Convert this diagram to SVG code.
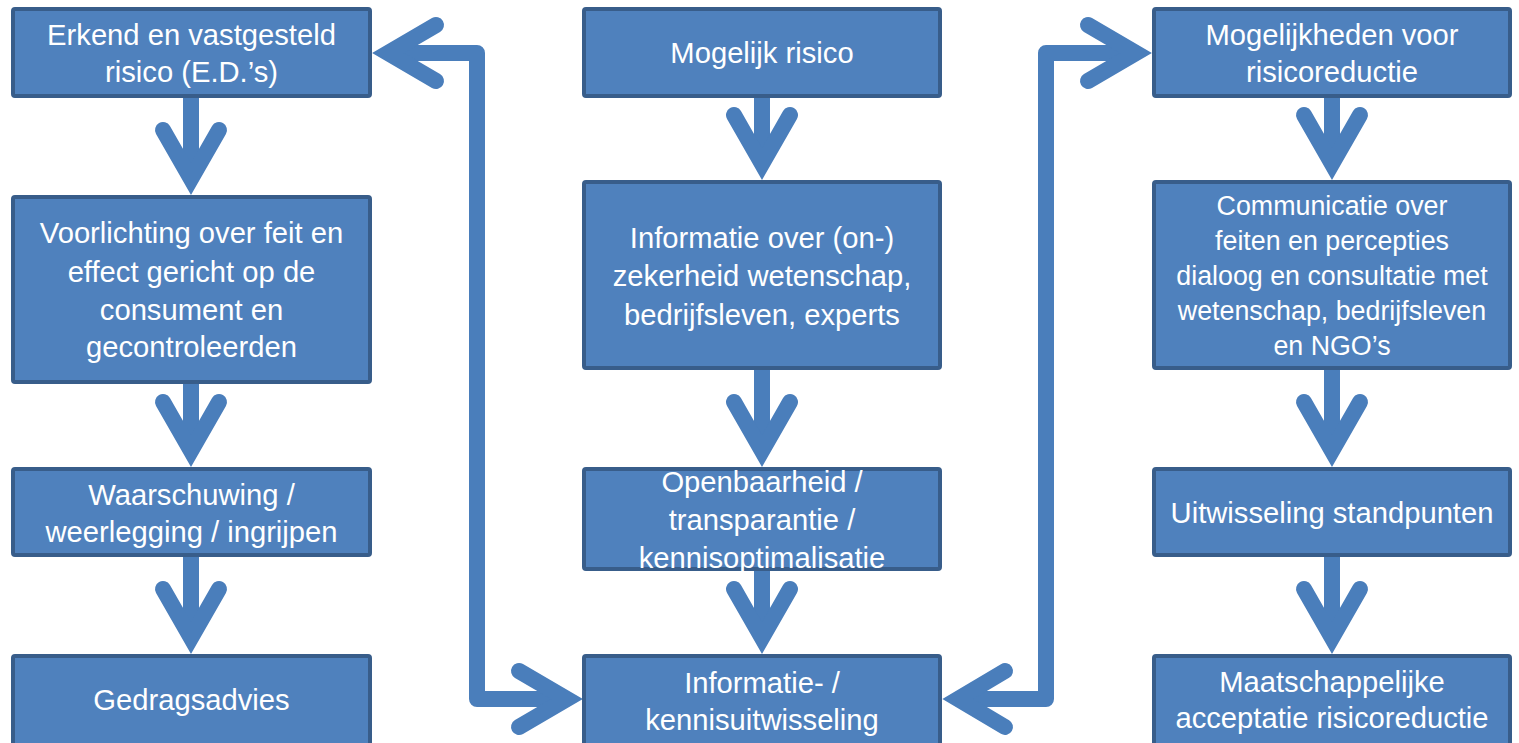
<svg xmlns="http://www.w3.org/2000/svg" width="1519" height="743" viewBox="0 0 1519 743">
<style>
.box{fill:#4F81BD;stroke:#385D8A;stroke-width:4}
.t{fill:#FFFFFF;font-family:"Liberation Sans",Arial,sans-serif;font-size:29.2px;text-anchor:middle}
.s{font-size:26.8px}
.ln{fill:none;stroke:#4A7EBB;stroke-width:16;stroke-linejoin:round;stroke-linecap:butt}
.hd{fill:none;stroke:#4A7EBB;stroke-width:16;stroke-linejoin:miter;stroke-miterlimit:6;stroke-linecap:round}
</style>
<rect width="1519" height="743" fill="#FFFFFF"/>
<g id="connectors">
<path class="ln" d="M191 98V180"/><polyline class="hd" points="163,130 191,179 219,130"/>
<path class="ln" d="M191 384V452"/><polyline class="hd" points="163,402 191,451 219,402"/>
<path class="ln" d="M191 557V639"/><polyline class="hd" points="163,589 191,638 219,589"/>
<path class="ln" d="M762 98V165"/><polyline class="hd" points="734,115 762,164 790,115"/>
<path class="ln" d="M762 370V452"/><polyline class="hd" points="734,402 762,451 790,402"/>
<path class="ln" d="M762 571V639"/><polyline class="hd" points="734,589 762,638 790,589"/>
<path class="ln" d="M1332 98V165"/><polyline class="hd" points="1304,115 1332,164 1360,115"/>
<path class="ln" d="M1332 370V452"/><polyline class="hd" points="1304,402 1332,451 1360,402"/>
<path class="ln" d="M1332 557V639"/><polyline class="hd" points="1304,589 1332,638 1360,589"/>
<path class="ln" d="M567 699H477V53H388"/>
<polyline class="hd" points="519,671 567,699 519,727"/>
<polyline class="hd" points="436,25 388,53 436,81"/>
<path class="ln" d="M958 699H1046V53H1136"/>
<polyline class="hd" points="1005,671 958,699 1005,727"/>
<polyline class="hd" points="1088,25 1136,53 1088,81"/>
</g>
<g id="n-erkend"><rect class="box" x="13" y="9" width="357" height="87" rx="2"/>
<text class="t" x="191.5" y="45">Erkend en vastgesteld</text><text class="t" x="191.5" y="82">risico (E.D.’s)</text></g>
<g id="n-voorlichting"><rect class="box" x="13" y="197" width="357" height="185" rx="2"/>
<text class="t" x="191.5" y="243">Voorlichting over feit en</text><text class="t" x="191.5" y="282">effect gericht op de</text><text class="t" x="191.5" y="320">consument en</text><text class="t" x="191.5" y="357">gecontroleerden</text></g>
<g id="n-waarschuwing"><rect class="box" x="13" y="469" width="357" height="86" rx="2"/>
<text class="t" x="191.5" y="505">Waarschuwing /</text><text class="t" x="191.5" y="542">weerlegging / ingrijpen</text></g>
<g id="n-gedragsadvies"><rect class="box" x="13" y="656" width="357" height="100" rx="2"/>
<text class="t" x="191.5" y="710">Gedragsadvies</text></g>
<g id="n-mogelijk"><rect class="box" x="584" y="9" width="356" height="87" rx="2"/>
<text class="t" x="762" y="63">Mogelijk risico</text></g>
<g id="n-informatie-over"><rect class="box" x="584" y="182" width="356" height="186" rx="2"/>
<text class="t" x="762" y="248">Informatie over (on-)</text><text class="t" x="762" y="286">zekerheid wetenschap,</text><text class="t" x="762" y="325">bedrijfsleven, experts</text></g>
<g id="n-openbaarheid"><rect class="box" x="584" y="469" width="356" height="100" rx="2"/>
<text class="t" x="762" y="492">Openbaarheid /</text><text class="t" x="762" y="530">transparantie /</text><text class="t" x="762" y="568">kennisoptimalisatie</text></g>
<g id="n-uitwisseling-info"><rect class="box" x="584" y="656" width="356" height="100" rx="2"/>
<text class="t" x="762" y="693">Informatie- /</text><text class="t" x="762" y="730">kennisuitwisseling</text></g>
<g id="n-mogelijkheden"><rect class="box" x="1154" y="9" width="356" height="87" rx="2"/>
<text class="t" x="1332" y="45">Mogelijkheden voor</text><text class="t" x="1332" y="82">risicoreductie</text></g>
<g id="n-communicatie"><rect class="box" x="1154" y="182" width="356" height="186" rx="2"/>
<text class="t s" x="1332" y="215">Communicatie over</text><text class="t s" x="1332" y="250">feiten en percepties</text><text class="t s" x="1332" y="285">dialoog en consultatie met</text><text class="t s" x="1332" y="320">wetenschap, bedrijfsleven</text><text class="t s" x="1332" y="355">en NGO’s</text></g>
<g id="n-standpunten"><rect class="box" x="1154" y="469" width="356" height="86" rx="2"/>
<text class="t" x="1332" y="523">Uitwisseling standpunten</text></g>
<g id="n-acceptatie"><rect class="box" x="1154" y="656" width="356" height="100" rx="2"/>
<text class="t" x="1332" y="692">Maatschappelijke</text><text class="t" x="1332" y="728">acceptatie risicoreductie</text></g>
</svg>
